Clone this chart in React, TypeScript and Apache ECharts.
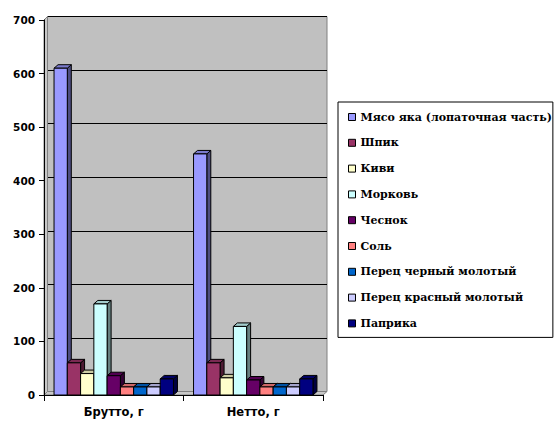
import React, { useEffect, useRef } from "react";
import * as echarts from "echarts";

const categories = ["Брутто, г", "Нетто, г"];
const seriesNames = [
  "Мясо яка (лопаточная часть)",
  "Шпик",
  "Киви",
  "Морковь",
  "Чеснок",
  "Соль",
  "Перец черный молотый",
  "Перец красный молотый",
  "Паприка",
];
const bruttoValues = [610, 60, 40, 170, 36, 15, 15, 15, 30];
const nettoValues = [450, 60, 32, 128, 28, 15, 15, 15, 30];
const seriesColors = [
  "#9999FF",
  "#993366",
  "#FFFFCC",
  "#CCFFFF",
  "#660066",
  "#FF8080",
  "#0066CC",
  "#CCCCFF",
  "#000080",
];
const yMin = 0;
const yMax = 700;
const yInterval = 100;

function shade(hex: string, f: number): string {
  const n = parseInt(hex.slice(1), 16);
  const r = Math.round(((n >> 16) & 255) * f);
  const g = Math.round(((n >> 8) & 255) * f);
  const b = Math.round((n & 255) * f);
  return `rgb(${r},${g},${b})`;
}

const DX = 4;
const DY = -3.5;
const GAP = 0.072;

// layout (front frame and back wall)
const FL = 44, FR = 323, FT = 20, FB = 395;
const BL = 47.5, BR = 327, BT = 16.5, BB = 391.5;
const W = 557, H = 421;

const legendText = {
  fontFamily: "DejaVu Serif",
  fontWeight: "bold",
  fontSize: 11,
  lineHeight: 14,
  color: "#000",
};

export default function App() {
  const ref = useRef<HTMLDivElement>(null);
  useEffect(() => {
    if (!ref.current) return;
    const chart = echarts.init(ref.current, undefined, { renderer: "svg" });
    const n = seriesNames.length;
    const series: any[] = seriesNames.map((name, si) => ({
      name,
      type: "custom",
      xAxisIndex: 0,
      yAxisIndex: 0,
      z: 5,
      itemStyle: { color: seriesColors[si] },
      data: categories.map((c, ci) => [ci, [bruttoValues, nettoValues][ci][si]]),
      renderItem: (params: any, api: any) => {
        const ci = api.value(0);
        const v = api.value(1);
        const base = api.coord([ci, 0]);
        const topP = api.coord([ci, v]);
        const bandW = api.size([1, 0])[0];
        const barW = (bandW * (1 - 2 * GAP)) / n;
        const x = base[0] - bandW / 2 + bandW * GAP + params.seriesIndex * barW;
        const ty = topP[1];
        const by = base[1];
        const col = seriesColors[params.seriesIndex];
        const stroke = { stroke: "#000", lineWidth: 1 };
        return {
          type: "group",
          children: [
            {
              type: "polygon",
              shape: {
                points: [
                  [x + barW, ty],
                  [x + barW + DX, ty + DY],
                  [x + barW + DX, by + DY],
                  [x + barW, by],
                ],
              },
              style: { fill: shade(col, 0.5), ...stroke },
            },
            {
              type: "polygon",
              shape: {
                points: [
                  [x, ty],
                  [x + DX, ty + DY],
                  [x + barW + DX, ty + DY],
                  [x + barW, ty],
                ],
              },
              style: { fill: shade(col, 0.8), ...stroke },
            },
            {
              type: "rect",
              shape: { x, y: ty, width: barW, height: by - ty },
              style: { fill: col, ...stroke },
            },
          ],
        };
      },
    }));

    const axisFont = {
      color: "#000",
      fontFamily: "DejaVu Sans",
      fontWeight: "bold",
    };

    const option: any = {
      animation: false,
      backgroundColor: "#fff",
      grid: [
        {
          left: FL,
          right: W - FR,
          top: FT,
          bottom: H - FB,
          show: false,
        },
        {
          left: BL,
          right: W - BR,
          top: BT,
          bottom: H - BB,
          show: true,
          backgroundColor: "#c0c0c0",
          borderColor: "#808080",
          borderWidth: 1,
          z: -1,
        },
      ],
      xAxis: [
        {
          type: "category",
          gridIndex: 0,
          data: categories,
          boundaryGap: true,
          z: 6,
          axisLine: { show: true, lineStyle: { color: "#000", width: 1 } },
          axisTick: { show: true, length: 6, alignWithLabel: false, lineStyle: { color: "#000" } },
          axisLabel: { margin: 11, fontSize: 11.5, ...axisFont },
          splitLine: { show: false },
        },
        {
          type: "category",
          gridIndex: 1,
          data: categories,
          show: false,
        },
      ],
      yAxis: [
        {
          type: "value",
          gridIndex: 0,
          min: yMin,
          max: yMax,
          interval: yInterval,
          z: 6,
          axisLine: { show: true, lineStyle: { color: "#000", width: 1 } },
          axisTick: { show: true, length: 5, lineStyle: { color: "#000" } },
          axisLabel: { margin: 9, fontSize: 10.5, ...axisFont },
          splitLine: { show: false },
        },
        {
          type: "value",
          gridIndex: 1,
          min: yMin,
          max: yMax,
          interval: yInterval,
          axisLine: { show: false },
          axisTick: { show: false },
          axisLabel: { show: false },
          splitLine: { show: true, lineStyle: { color: "#000", width: 1 } },
        },
      ],
      legend: {
        orient: "vertical",
        left: 338,
        top: 102,
        padding: [8, 1, 7, 10],
        borderColor: "#000",
        borderWidth: 1,
        itemWidth: 7,
        itemHeight: 7,
        itemGap: 11.8,
        icon: "rect",
        itemStyle: { borderColor: "#000", borderWidth: 1 },
        textStyle: legendText,
        data: seriesNames,
      },
      graphic: [
        {
          type: "polygon",
          z: 1,
          shape: { points: [[FL, FT], [BL, BT], [BL, BB], [FL, FB]] },
          style: { fill: "#c8c8c8", stroke: "#808080", lineWidth: 1 },
        },
        {
          type: "polygon",
          z: 1,
          shape: { points: [[FL, FB], [BL, BB], [BR, BB], [FR, FB]] },
          style: { fill: "#c8c8c8", stroke: "#808080", lineWidth: 1 },
        },
      ],
      series,
    };
    chart.setOption(option);
    return () => chart.dispose();
  }, []);
  return (
    <div
      ref={ref}
      style={{ position: "fixed", left: 0, top: 0, width: W, height: H }}
    />
  );
}
